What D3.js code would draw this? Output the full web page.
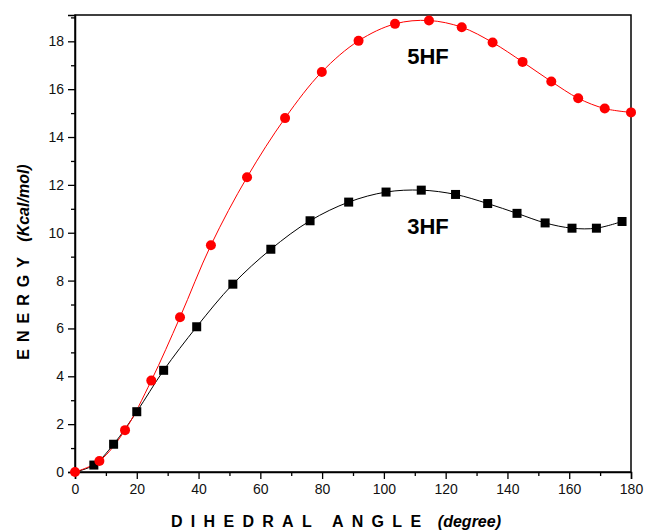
<!DOCTYPE html>
<html>
<head>
<meta charset="utf-8">
<script src="https://cdn.jsdelivr.net/npm/d3@7"></script>
<style>
  body { margin: 0; background: #fff; }
  text { font-family: "Liberation Sans", Arial, sans-serif; }
</style>
</head>
<body>
<div id="chart"></div>
<script>
const width = 648;
const height = 530;
const margin = { top: 15, right: 17, bottom: 58, left: 75 };

// 3HF (squares)
const angle3HF = [0, 6.1, 12.5, 20, 28.7, 39.4, 51.1, 63.4, 76.1, 88.6, 100.7, 112.1, 123.2, 133.6, 143.1, 152.2, 160.9, 168.8, 177.1];
const energy3HF = [0, 0.29, 1.16, 2.52, 4.25, 6.07, 7.85, 9.31, 10.5, 11.28, 11.7, 11.78, 11.6, 11.22, 10.81, 10.41, 10.19, 10.19, 10.47];

// 5HF (circles)
const angle5HF = [0, 7.9, 16.2, 24.7, 34, 44, 55.7, 68, 79.9, 91.8, 103.6, 114.6, 125.2, 135.2, 144.9, 154.2, 162.9, 171.5, 180];
const energy5HF = [0, 0.46, 1.75, 3.82, 6.47, 9.48, 12.32, 14.79, 16.72, 18.02, 18.73, 18.87, 18.59, 17.95, 17.14, 16.32, 15.62, 15.19, 15.03];

const xTicks = [0, 20, 40, 60, 80, 100, 120, 140, 160, 180];
const yTicks = [0, 2, 4, 6, 8, 10, 12, 14, 16, 18];

const svg = d3.select("#chart").append("svg")
    .attr("width", width)
    .attr("height", height);

const x = d3.scaleLinear().domain([0, 180]).range([margin.left, width - margin.right]);
const y = d3.scaleLinear().domain([0, 19.1]).range([height - margin.bottom, margin.top]);

// frame
svg.append("rect")
    .attr("x", x(0))
    .attr("y", y(19.1))
    .attr("width", x(180) - x(0))
    .attr("height", y(0) - y(19.1))
    .attr("fill", "none")
    .attr("stroke", "#000")
    .attr("stroke-width", 1.5);

// x axis
svg.append("g")
    .attr("transform", `translate(0,${y(0)})`)
    .call(d3.axisBottom(x).tickValues(xTicks).tickSize(7).tickPadding(5));
svg.append("g")
    .attr("transform", `translate(0,${y(0)})`)
    .call(d3.axisBottom(x).tickValues(d3.range(10, 180, 20)).tickSize(4).tickFormat(""))
    .call(g => g.select(".domain").remove());

// y axis
svg.append("g")
    .attr("transform", `translate(${x(0)},0)`)
    .call(d3.axisLeft(y).tickValues(yTicks).tickSize(7).tickPadding(4));
svg.append("g")
    .attr("transform", `translate(${x(0)},0)`)
    .call(d3.axisLeft(y).tickValues(d3.range(1, 20, 2)).tickSize(4).tickFormat(""))
    .call(g => g.select(".domain").remove());

svg.selectAll(".domain").attr("stroke-width", 1.5);
svg.selectAll(".tick line").attr("stroke-width", 1.3);
svg.selectAll(".tick text")
    .attr("font-size", 14)
    .attr("font-family", "Liberation Sans, Arial, sans-serif")
    .attr("fill", "#111");

// lines
const line = d3.line()
    .x(d => x(d[0]))
    .y(d => y(d[1]))
    .curve(d3.curveCatmullRom);

const data3 = angle3HF.map((a, i) => [a, energy3HF[i]]);
const data5 = angle5HF.map((a, i) => [a, energy5HF[i]]);

svg.append("path")
    .datum(data3)
    .attr("d", line)
    .attr("fill", "none")
    .attr("stroke", "#000")
    .attr("stroke-width", 1);

svg.append("path")
    .datum(data5)
    .attr("d", line)
    .attr("fill", "none")
    .attr("stroke", "#ff0000")
    .attr("stroke-width", 1);

// markers
svg.selectAll(".sq")
    .data(data3.slice(1))
    .enter().append("rect")
    .attr("class", "sq")
    .attr("x", d => x(d[0]) - 4.5)
    .attr("y", d => y(d[1]) - 4.5)
    .attr("width", 9)
    .attr("height", 9)
    .attr("fill", "#000");

svg.selectAll(".dot")
    .data(data5)
    .enter().append("circle")
    .attr("class", "dot")
    .attr("cx", d => x(d[0]))
    .attr("cy", d => y(d[1]))
    .attr("r", 5)
    .attr("fill", "#ff0000");

// series labels
svg.append("text")
    .attr("x", 428)
    .attr("y", 64)
    .attr("text-anchor", "middle")
    .attr("font-size", 22)
    .attr("font-weight", "bold")
    .text("5HF");

svg.append("text")
    .attr("x", 428)
    .attr("y", 234)
    .attr("text-anchor", "middle")
    .attr("font-size", 22)
    .attr("font-weight", "bold")
    .text("3HF");

// axis titles
const xt = svg.append("text")
    .attr("x", 336)
    .attr("y", 527)
    .attr("text-anchor", "middle")
    .attr("font-size", 16)
    .attr("font-weight", "bold");
xt.append("tspan").attr("letter-spacing", "8.3px").text("DIHEDRAL ANGLE");
xt.append("tspan").attr("font-style", "italic").attr("dx", 4).text(" (degree)");

const yt = svg.append("text")
    .attr("transform", `translate(29,${262}) rotate(-90)`)
    .attr("text-anchor", "middle")
    .attr("font-size", 16)
    .attr("font-weight", "bold");
yt.append("tspan").attr("letter-spacing", "7px").text("ENERGY");
yt.append("tspan").attr("font-style", "italic").attr("dx", 4).text(" (Kcal/mol)");
</script>
</body>
</html>
